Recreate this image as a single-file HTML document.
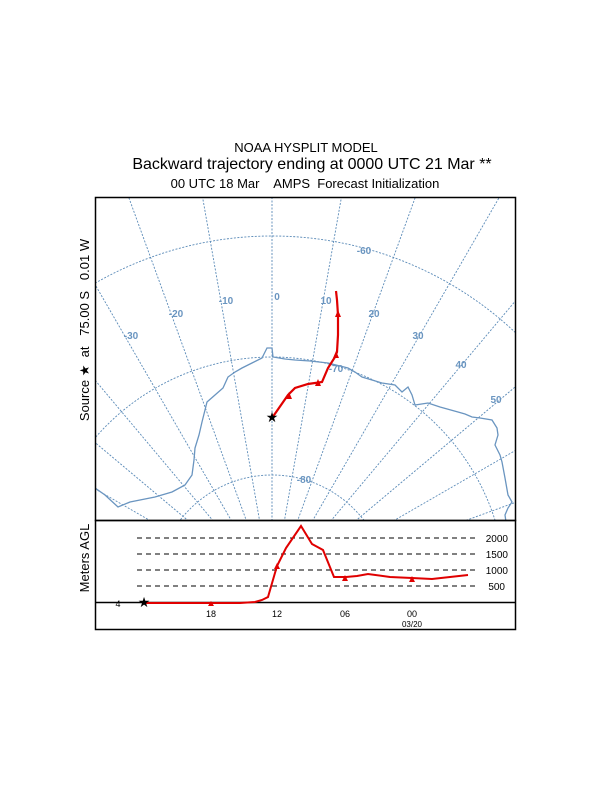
<!DOCTYPE html>
<html><head><style>
html,body{margin:0;padding:0;background:#fff;width:612px;height:792px;overflow:hidden;}
svg{display:block;font-family:"Liberation Sans",Arial,sans-serif;}
text{white-space:pre;}
</style></head><body>
<svg width="612" height="792" viewBox="0 0 612 792" xmlns="http://www.w3.org/2000/svg">
<rect width="612" height="792" fill="#fff"/>
<text x="306" y="152" font-size="13" text-anchor="middle">NOAA HYSPLIT MODEL</text>
<text x="312" y="169" font-size="16" text-anchor="middle">Backward trajectory ending at 0000 UTC 21 Mar **</text>
<text x="305" y="188" font-size="13" text-anchor="middle" xml:space="preserve">00 UTC 18 Mar    AMPS  Forecast Initialization</text>
<defs><clipPath id="c"><rect x="96" y="198" width="419" height="322"/></clipPath></defs>
<g clip-path="url(#c)" stroke="#5b8bb8" stroke-width="0.9" fill="none" stroke-dasharray="2,1.5">
<circle cx="272" cy="591" r="116"/>
<circle cx="272" cy="591" r="234"/>
<circle cx="272" cy="591" r="355"/>
<line x1="272" y1="591" x2="272" y2="-300" transform="rotate(-90 272 591)"/>
<line x1="272" y1="591" x2="272" y2="-300" transform="rotate(-80 272 591)"/>
<line x1="272" y1="591" x2="272" y2="-300" transform="rotate(-70 272 591)"/>
<line x1="272" y1="591" x2="272" y2="-300" transform="rotate(-60 272 591)"/>
<line x1="272" y1="591" x2="272" y2="-300" transform="rotate(-50 272 591)"/>
<line x1="272" y1="591" x2="272" y2="-300" transform="rotate(-40 272 591)"/>
<line x1="272" y1="591" x2="272" y2="-300" transform="rotate(-30 272 591)"/>
<line x1="272" y1="591" x2="272" y2="-300" transform="rotate(-20 272 591)"/>
<line x1="272" y1="591" x2="272" y2="-300" transform="rotate(-10 272 591)"/>
<line x1="272" y1="591" x2="272" y2="-300"/>
<line x1="272" y1="591" x2="272" y2="-300" transform="rotate(10 272 591)"/>
<line x1="272" y1="591" x2="272" y2="-300" transform="rotate(20 272 591)"/>
<line x1="272" y1="591" x2="272" y2="-300" transform="rotate(30 272 591)"/>
<line x1="272" y1="591" x2="272" y2="-300" transform="rotate(40 272 591)"/>
<line x1="272" y1="591" x2="272" y2="-300" transform="rotate(50 272 591)"/>
<line x1="272" y1="591" x2="272" y2="-300" transform="rotate(60 272 591)"/>
<line x1="272" y1="591" x2="272" y2="-300" transform="rotate(70 272 591)"/>
<line x1="272" y1="591" x2="272" y2="-300" transform="rotate(80 272 591)"/>
<line x1="272" y1="591" x2="272" y2="-300" transform="rotate(90 272 591)"/>
</g>
<g clip-path="url(#c)" stroke="#6a95c0" stroke-width="1.3" fill="none">
<polyline points="95,488 105,495 118,507 130,502 155,497 172,492 185,485 192,475 194,460 195,448 199,435 202,422 207,402 215,395 223,388 228,377 235,372 242,368 252,363 262,358 265,352 267,348 272,348 273,357 285,359 295,360 310,361 328,363 340,366 348,368 355,372 362,377 372,380 382,383 395,385 402,392 408,387 412,395 415,405 428,403 440,407 458,412 465,414 472,417 480,418 492,420 497,428 498,435 495,445 500,455 502,462 505,478 508,495 512,502 508,508 505,515 506,522"/>
</g>
<g fill="#6a95c0" font-size="10" text-anchor="middle" font-weight="bold">
<text x="364" y="254">-60</text>
<text x="277" y="300">0</text>
<text x="226" y="304">-10</text>
<text x="326" y="304">10</text>
<text x="374" y="317">20</text>
<text x="418" y="339">30</text>
<text x="461" y="368">40</text>
<text x="496" y="403">50</text>
<text x="176" y="317">-20</text>
<text x="131" y="339">-30</text>
<text x="304" y="483">-80</text>
<text x="336" y="372">-70</text>
</g>
<polyline points="336,291 337,300 338,315 338,335 337,352 335,357 328,368 322,382 308,384 295,388 288,395 272,418" fill="none" stroke="#e00000" stroke-width="2.2"/>
<g fill="#e00000">
<polygon points="338,310 335,317 341,317"/>
<polygon points="336,351 333,358 339,358"/>
<polygon points="318,379 315,386 321,386"/>
<polygon points="289,392 286,399 292,399"/>
</g>
<text x="272" y="422" font-size="14" text-anchor="middle">★</text>
<rect x="95.5" y="197.5" width="420" height="323" fill="none" stroke="#000" stroke-width="1.5"/>
<rect x="95.5" y="520.5" width="420" height="109" fill="none" stroke="#000" stroke-width="1.5"/>
<g stroke="#000" stroke-width="1" stroke-dasharray="5,4">
<line x1="137" y1="538" x2="475" y2="538"/>
<line x1="137" y1="554" x2="475" y2="554"/>
<line x1="137" y1="570" x2="475" y2="570"/>
<line x1="137" y1="586" x2="475" y2="586"/>
</g>
<g font-size="10" text-anchor="end">
<text x="508" y="542">2000</text>
<text x="508" y="558">1500</text>
<text x="508" y="574">1000</text>
<text x="505" y="590">500</text>
</g>
<line x1="95" y1="602.5" x2="516" y2="602.5" stroke="#000" stroke-width="1.5"/>
<polyline points="143,603 200,603 240,603 255,602 262,600 268,597 277,566 286,548 301,526 312,544 323,550 334,577 346,577 357,576 368,574 390,577 412,578 432,579 450,577 468,575" fill="none" stroke="#e00000" stroke-width="2"/>
<g fill="#e00000">
<polygon points="211,601 208,606 214,606"/>
<polygon points="277,563 274,569 280,569"/>
<polygon points="345,575 342,581 348,581"/>
<polygon points="412,576 409,582 415,582"/>
</g>
<text x="144" y="607" font-size="14" text-anchor="middle">★</text>
<text x="118" y="607" font-size="9" text-anchor="middle">4</text>
<g font-size="9" text-anchor="middle">
<text x="211" y="617">18</text>
<text x="277" y="617">12</text>
<text x="345" y="617">06</text>
<text x="412" y="617">00</text>
<text x="412" y="627" font-size="8">03/20</text>
</g>
<text transform="translate(89,330) rotate(-90)" font-size="13" text-anchor="middle" xml:space="preserve">Source ★  at   75.00 S   0.01 W</text>
<text transform="translate(89,558) rotate(-90)" font-size="13" text-anchor="middle">Meters AGL</text>
</svg>
</body></html>
